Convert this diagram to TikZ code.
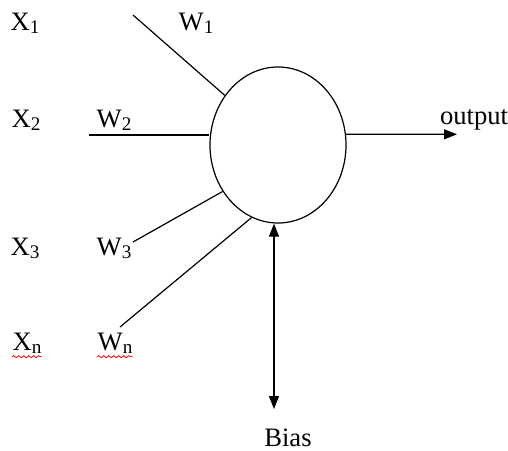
\documentclass[tikz,border=0pt]{standalone}
\usepackage{fontspec}
\setmainfont{Liberation Serif}
\usetikzlibrary{arrows.meta,shapes.geometric,decorations.pathmorphing}
\newcommand{\idx}[1]{\raisebox{-0.12em}{\fontsize{9.6}{10}\selectfont #1}}

\begin{document}
\begin{tikzpicture}[x=0.5pt, y=-0.5pt,
    font=\fontsize{13.3}{16}\selectfont,
    lbl/.style={inner sep=0pt},
    wire/.style={line width=0.6pt},
    arr/.style={-{Triangle[length=6.5pt, width=5pt]}, line width=0.6pt},
    dbl/.style={{Triangle[length=6.5pt, width=5pt]}-{Triangle[length=6.5pt, width=5pt]}, line width=0.6pt},
    typo/.style={red, line width=0.4pt, decorate, decoration={snake, amplitude=0.5pt, segment length=2.5pt}}
]
\useasboundingbox (0,0) rectangle (508,450);
\node[draw, ellipse, minimum width=68pt, minimum height=78pt, inner sep=0pt, line width=0.6pt] (neuron) at (278,145) {};
% inputs and weights
\node[lbl] (x1) at (25,23) {X\idx{1}};
\node[lbl] (w1) at (196,23) {W\idx{1}};
\node[lbl] (x2) at (26,120) {X\idx{2}};
\node[lbl] (w2) at (114,120) {W\idx{2}};
\node[lbl] (x3) at (25,248) {X\idx{3}};
\node[lbl] (w3) at (114,248) {W\idx{3}};
\node[lbl] (xn) at (27,343) {X\idx{n}};
\node[lbl] (wn) at (115,343) {W\idx{n}};
\node[lbl] (out) at (474,120) {output};
\node[lbl] (bias) at (288,438) {Bias};
\coordinate (w1end) at (133,15);
\coordinate (w2end) at (89,135);
\coordinate (w3end) at (133,242);
\coordinate (wnend) at (120,327);
\coordinate (outend) at (457,134.3);
\coordinate (biasend) at (274,409);
\draw[wire] (w1end) -- (neuron.137);
\draw[wire] (w2end) -- (w2end -| neuron.west);
\draw[wire] (w3end) -- (neuron.220);
\draw[wire] (wnend) -- (neuron.250);
\draw[arr] (neuron.9) -- (outend);
\draw[dbl] (biasend) -- (biasend |- neuron.south);
% spelling marks
\draw[typo] ([yshift=-1.5pt]xn.south west) -- ([yshift=-1.5pt]xn.south east);
\draw[typo] ([yshift=-1.5pt]wn.south west) -- ([yshift=-1.5pt]wn.south east);
\end{tikzpicture}
\end{document}
